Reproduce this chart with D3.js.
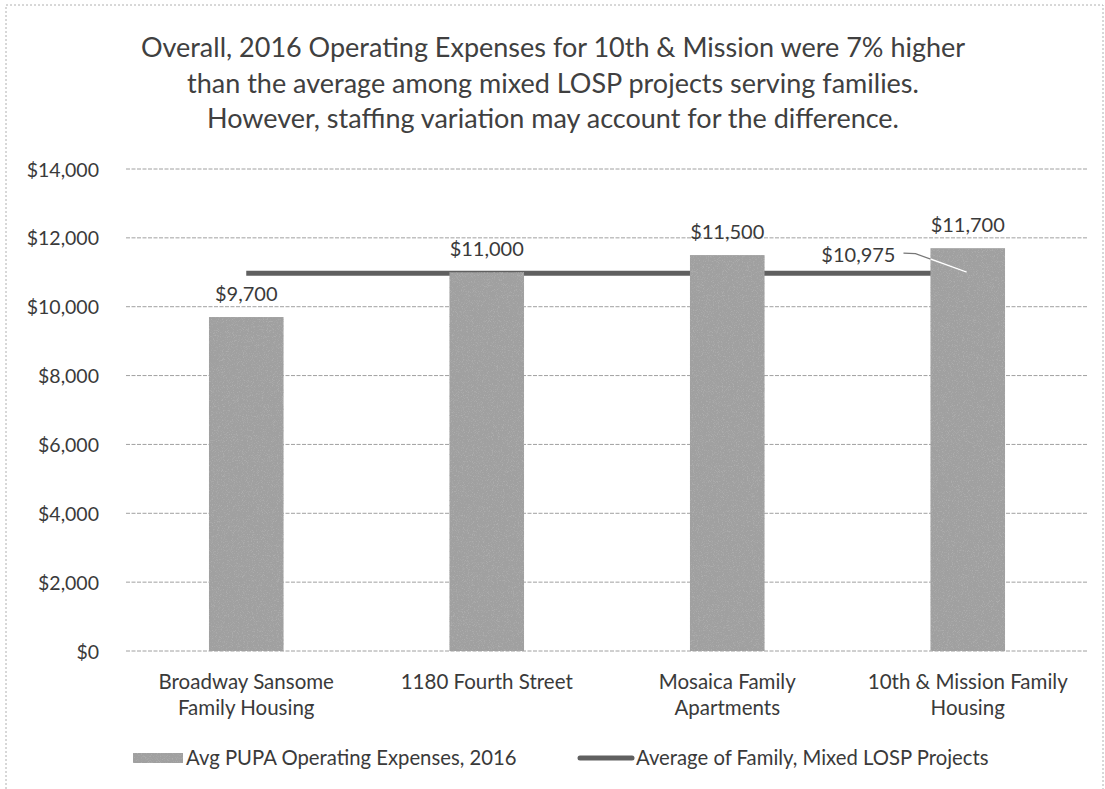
<!DOCTYPE html>
<html>
<head>
<meta charset="utf-8">
<script src="https://cdn.jsdelivr.net/npm/d3@7"></script>
<style>
  body { margin: 0; background: #fff; }
  text { font-family: Lato, "Open Sans", sans-serif; fill: #3a3a3a; }
</style>
</head>
<body>
<div id="chart"></div>
<script>
// data
var categories = [["Broadway Sansome", "Family Housing"], ["1180 Fourth Street"], ["Mosaica Family", "Apartments"], ["10th & Mission Family", "Housing"]];
var expenses = [9700, 11000, 11500, 11700];
var average = 10975;
var yTicks = [0, 2000, 4000, 6000, 8000, 10000, 12000, 14000];
var titleLines = ["Overall, 2016 Operating Expenses for 10th & Mission were 7% higher",
                  "than the average among mixed LOSP projects serving families.",
                  "However, staffing variation may account for the difference."];
var legendLabels = ["Avg PUPA Operating Expenses, 2016", "Average of Family, Mixed LOSP Projects"];

var width = 1105, height = 789;
var margin = {top: 169, right: 17, bottom: 138, left: 126};
var barColor = "#a0a0a0", lineColor = "#606060";

var svg = d3.select("#chart").append("svg")
    .attr("width", width).attr("height", height);

// speckled fill, like the scanned print
var defs = svg.append("defs");
var f = defs.append("filter").attr("id", "grain").attr("x", 0).attr("y", 0).attr("width", 1).attr("height", 1);
f.append("feTurbulence").attr("type", "fractalNoise").attr("baseFrequency", 1.2).attr("numOctaves", 2).attr("seed", 3).attr("result", "n");
f.append("feColorMatrix").attr("in", "n").attr("type", "matrix")
  .attr("values", "0 0 0 0 0.42  0 0 0 0 0.42  0 0 0 0 0.42  4 0 0 0 -2.1").attr("result", "g");
f.append("feComposite").attr("in", "g").attr("in2", "SourceGraphic").attr("operator", "in");

// chart border
svg.append("rect").attr("x", 6).attr("y", 5).attr("width", width - 8).attr("height", height + 10)
  .attr("fill", "none").attr("stroke", "#b0b0b0").attr("stroke-dasharray", "2,2");

var g = svg.append("g").attr("transform", "translate(" + margin.left + "," + margin.top + ")");
var w = width - margin.left - margin.right;
var h = height - margin.top - margin.bottom;

var x = d3.scaleBand().domain(d3.range(categories.length)).range([0, w]).paddingInner(0.69).paddingOuter(0.345);
var y = d3.scaleLinear().domain([0, 14000]).range([h, 0]);
var cx = function(i) { return x(i) + x.bandwidth() / 2; };
var money = function(d) { return "$" + d3.format(",")(d); };

// title
svg.append("g").selectAll("text").data(titleLines).enter().append("text")
  .attr("x", 553).attr("y", function(d, i) { return 57 + i * 35.5; })
  .attr("text-anchor", "middle").style("font-size", "27px").style("fill", "#404040")
  .text(function(d) { return d; });

// gridlines
g.append("g").selectAll("line").data(yTicks).enter().append("line")
  .attr("x1", 0).attr("x2", w)
  .attr("y1", function(d) { return y(d); }).attr("y2", function(d) { return y(d); })
  .attr("stroke", "#a0a0a0").attr("stroke-width", 1).attr("stroke-dasharray", "4,1.5");

// y axis labels
var yAxis = d3.axisLeft(y).tickValues(yTicks).tickSize(0).tickPadding(27).tickFormat(money);
g.append("g").call(yAxis)
  .call(function(s) { s.select(".domain").remove(); })
  .selectAll("text").attr("font-family", null).attr("dy", "0.36em")
  .style("font-size", "19.5px").style("fill", "#3a3a3a");

// average line, behind the bars
g.append("line")
  .attr("x1", cx(0)).attr("x2", cx(categories.length - 1))
  .attr("y1", y(average)).attr("y2", y(average))
  .attr("stroke", lineColor).attr("stroke-width", 5);

// bars
var bars = g.append("g").selectAll("g").data(expenses).enter().append("g");
bars.append("rect")
  .attr("x", function(d, i) { return x(i); }).attr("width", x.bandwidth())
  .attr("y", function(d) { return y(d); }).attr("height", function(d) { return h - y(d); })
  .attr("fill", barColor);
bars.append("rect")
  .attr("x", function(d, i) { return x(i); }).attr("width", x.bandwidth())
  .attr("y", function(d) { return y(d); }).attr("height", function(d) { return h - y(d); })
  .attr("fill", barColor).attr("filter", "url(#grain)");

// bar value labels
g.append("g").selectAll("text").data(expenses).enter().append("text")
  .attr("x", function(d, i) { return cx(i); }).attr("y", function(d) { return y(d) - 16; })
  .attr("text-anchor", "middle").style("font-size", "20px")
  .text(money);

// average label with leader line
var last = categories.length - 1;
var ay = y(average);
var lx0 = x(last) - 27, lx1 = x(last) - 15, lx2 = cx(last) - 1;
g.append("text").attr("x", lx0 - 8).attr("y", ay - 11)
  .attr("text-anchor", "end").style("font-size", "20px")
  .text(money(average));
g.append("polyline")
  .attr("points", [[lx0, ay - 20], [lx1, ay - 19.5], [lx2, ay - 1]].join(" "))
  .attr("fill", "none").attr("stroke", "#777").attr("stroke-width", 1.2);
var t = (x(last) - lx1) / (lx2 - lx1);
g.append("line")
  .attr("x1", x(last)).attr("y1", ay - 19.5 + t * 18.5)
  .attr("x2", lx2).attr("y2", ay - 1)
  .attr("stroke", "#fff").attr("stroke-width", 1.5);

// category labels
var cat = g.append("g").selectAll("text").data(categories).enter().append("text")
  .attr("x", function(d, i) { return cx(i); }).attr("y", h + 38)
  .attr("text-anchor", "middle").style("font-size", "20.5px");
cat.selectAll("tspan").data(function(d) { return d; }).enter().append("tspan")
  .attr("x", function() { return d3.select(this.parentNode).attr("x"); })
  .attr("dy", function(d, i) { return i ? 26 : 0; })
  .text(function(d) { return d; });

// legend
var ly = 758;
var leg = svg.append("g");
leg.append("rect").attr("x", 133).attr("y", ly - 5).attr("width", 50).attr("height", 10).attr("fill", barColor);
leg.append("rect").attr("x", 133).attr("y", ly - 5).attr("width", 50).attr("height", 10).attr("fill", barColor).attr("filter", "url(#grain)");
leg.append("text").attr("x", 186).attr("y", ly + 7).style("font-size", "20.3px").text(legendLabels[0]);
leg.append("line").attr("x1", 580).attr("x2", 632).attr("y1", ly).attr("y2", ly)
  .attr("stroke", lineColor).attr("stroke-width", 5).attr("stroke-linecap", "round");
leg.append("text").attr("x", 636).attr("y", ly + 7).style("font-size", "20.3px").text(legendLabels[1]);
</script>
</body>
</html>
